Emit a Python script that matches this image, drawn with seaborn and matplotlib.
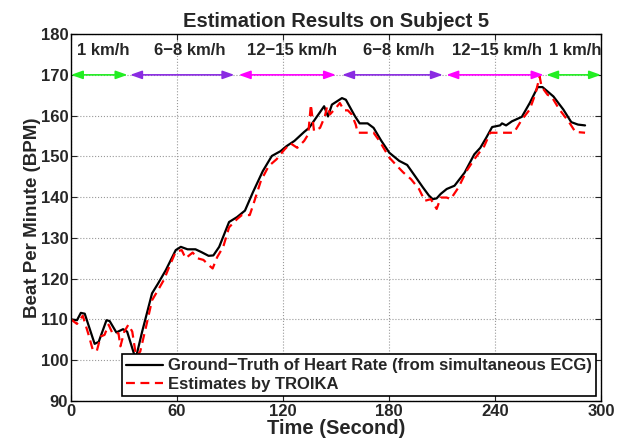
import numpy as np
import pandas as pd
import matplotlib
matplotlib.use("Agg")
import matplotlib.pyplot as plt
import seaborn as sns

# ground truth heart rate (from ECG)
gt_t = [0, 3.4, 5.6, 7.8, 13.4, 15.7, 20.1, 21.9, 25.7, 29.5, 31.8, 35.8, 37, 40.3,
        45.9, 49.3, 53.7, 59.3, 62.2, 66, 70.5, 73.9, 77.9, 80.6, 83.9, 89.5, 94,
        98.5, 103, 108.6, 113.7, 118.7, 122, 126.5, 132, 134.8, 138.8, 143.3, 145.5,
        147.7, 153.4, 155.6, 160.7, 163.4, 167.9, 171.3, 175.7, 180.2, 185.8, 190.3,
        194.7, 199.2, 202.6, 204.8, 207, 209.3, 212.7, 217.1, 222.8, 228.3, 231.7,
        235.1, 238.4, 242.9, 244, 246.3, 249.6, 255.2, 259.7, 264.2, 266.9, 273.1,
        278.7, 283.2, 287, 291]
gt_bpm = [110.0, 109.8, 111.6, 111.4, 104.0, 104.5, 109.8, 109.6, 106.8, 107.6, 107.0,
          101.4, 101.0, 107.0, 116.4, 118.8, 122.1, 127.0, 127.8, 127.2, 127.2, 126.5,
          125.6, 125.7, 127.8, 133.9, 135.1, 136.7, 141.2, 146.4, 150.1, 151.3, 152.5,
          153.8, 156.0, 157.0, 159.5, 162.3, 159.8, 162.7, 164.3, 163.9, 159.9, 158.1,
          158.1, 157.0, 153.8, 150.9, 148.9, 147.9, 145.2, 142.4, 140.4, 139.5, 139.7,
          140.8, 142.0, 142.8, 146.0, 150.5, 152.1, 154.6, 157.2, 157.6, 158.1, 157.6,
          158.6, 159.7, 163.1, 167.0, 167.0, 164.7, 161.5, 158.4, 157.8, 157.6]

# TROIKA estimates
est_t = [0, 3.4, 6.7, 10, 12.3, 14.6, 16.8, 19, 21.3, 23.5, 26.9, 28, 30.2, 32.5, 34.7,
         36.9, 39.2, 42.5, 45.9, 49.3, 52.6, 56, 59.3, 62.7, 64.9, 68.9, 71.6, 75, 78,
         80.2, 82.8, 86.2, 89.5, 94, 96.7, 101.2, 103, 107.5, 111.9, 116.4, 120.9,
         124.3, 128.1, 132, 134.3, 135.8, 137.6, 141, 143.7, 145, 146.6, 150, 152.2,
         154.5, 156.7, 158.9, 161.2, 162.3, 171.3, 174.6, 180.2, 183.6, 188, 192.5, 197,
         200.3, 203.7, 207, 209.3, 212.7, 214.9, 219.4, 223.9, 228.3, 233.9, 237.3,
         250.7, 255.2, 259.7, 263, 265.3, 266.4, 269.8, 272, 276.5, 282.1, 285.5, 291]
est_bpm = [110.0, 108.9, 110.9, 106.2, 102.6, 102.2, 105.8, 106.2, 108.7, 106.6, 106.6,
           103.4, 107.0, 108.7, 107.0, 100.9, 102.1, 108.2, 114.7, 117.2, 119.7, 123.3,
           126.6, 127.0, 125.0, 126.4, 125.0, 124.6, 123.3, 122.5, 125.3, 127.8, 132.6,
           134.6, 135.6, 135.6, 137.9, 144.0, 147.6, 149.3, 151.7, 153.2, 152.1, 153.8,
           155.4, 162.7, 156.2, 157.0, 159.8, 162.3, 160.3, 161.9, 163.1, 161.3, 161.3,
           160.3, 157.8, 155.8, 155.8, 153.8, 149.7, 148.1, 146.1, 144.4, 142.0, 139.1,
           139.5, 137.1, 139.9, 139.9, 139.5, 142.4, 146.4, 149.3, 152.5, 155.8, 155.8,
           159.0, 161.5, 165.5, 169.6, 167.1, 165.1, 164.7, 161.5, 158.3, 156.0, 155.8]

# running speed phases
speed_labels = ["1 km/h", "6\u22128 km/h", "12\u221215 km/h", "6\u22128 km/h",
                "12\u221215 km/h", "1 km/h"]
seg_start = [0, 33.5, 95, 153.5, 212.5, 269]
seg_end = [32, 92.5, 150, 210.5, 267.5, 300]
label_x = [18, 67, 125, 185.8, 241, 285.5]
seg_colors = ["#22ee22", "#8a2be2", "#ff00ff", "#8a2be2", "#ff00ff", "#22ee22"]

df = pd.concat([
    pd.DataFrame({"t": gt_t, "bpm": gt_bpm,
                  "src": "Ground\u2212Truth of Heart Rate (from simultaneous ECG)"}),
    pd.DataFrame({"t": est_t, "bpm": est_bpm, "src": "Estimates by TROIKA"}),
])

sns.set_style("ticks")
plt.rcParams["font.family"] = ["Liberation Sans", "DejaVu Sans"]
plt.rcParams["font.weight"] = "bold"

fig = plt.figure(figsize=(6.17, 4.43), dpi=100)
ax = fig.add_axes([0.115, 0.095, 0.859, 0.828])

sns.lineplot(data=df, x="t", y="bpm", hue="src", style="src",
             palette=["black", "red"], dashes=[(None, None), (4, 2.5)],
             linewidth=1.6, ax=ax, sort=False)

for s, e, c in zip(seg_start, seg_end, seg_colors):
    ax.annotate("", xy=(e, 170), xytext=(s, 170),
                arrowprops=dict(arrowstyle="<|-|>,head_length=0.7,head_width=0.25",
                                color=c, lw=1.2, shrinkA=0, shrinkB=0,
                                mutation_scale=10))
for lx, lab in zip(label_x, speed_labels):
    ax.text(lx, 176, lab, ha="center", va="center", fontsize=12, fontweight="bold")

ax.set_xlim(0, 300)
ax.set_ylim(90, 180)
ax.set_xticks(np.arange(0, 301, 60))
ax.set_yticks(np.arange(90, 181, 10))
ax.grid(True, linestyle=":", color="#999999", linewidth=0.8)
ax.tick_params(direction="in", top=True, right=True, labelsize=12, length=4, pad=2)
for lab in ax.get_xticklabels() + ax.get_yticklabels():
    lab.set_fontweight("bold")
for sp in ax.spines.values():
    sp.set_linewidth(1.0)
    sp.set_color("black")

ax.set_title("Estimation Results on Subject 5", fontsize=14.5, fontweight="bold", pad=5)
ax.set_xlabel("Time (Second)", fontsize=14.5, fontweight="bold", labelpad=0)
ax.set_ylabel("Beat Per Minute (BPM)", fontsize=13.5, fontweight="bold", labelpad=0)

leg = ax.legend(loc="lower right", fontsize=12, frameon=True, fancybox=False,
                borderaxespad=0.3, handlelength=2.2, handletextpad=0.3,
                borderpad=0.25, labelspacing=0.2)
leg.get_frame().set_edgecolor("black")
leg.get_frame().set_linewidth(1.2)
leg.get_frame().set_alpha(1)

fig.savefig("out.png", dpi=100)
